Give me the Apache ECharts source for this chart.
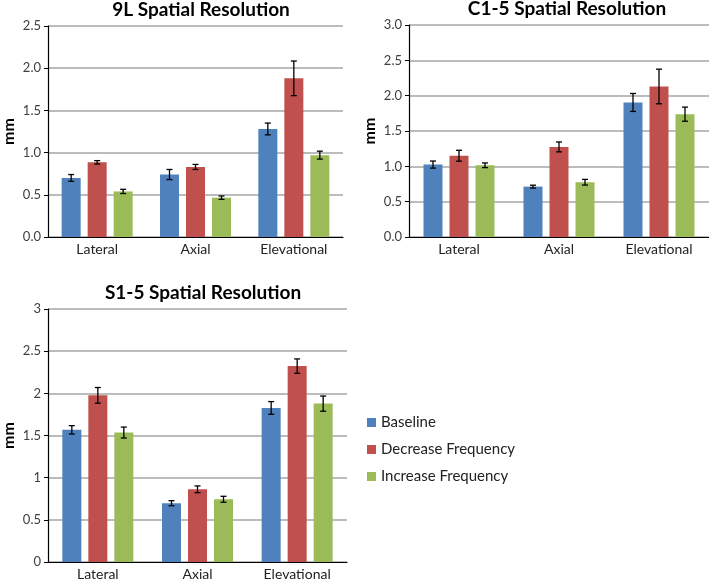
<!DOCTYPE html>
<html>
<head>
<meta charset="utf-8">
<script src="https://cdn.jsdelivr.net/npm/echarts@6/dist/echarts.min.js"></script>
<style>
html,body{margin:0;padding:0;background:#fff;}
#main{width:709px;height:581px;}
</style>
</head>
<body>
<div id="main"></div>
<script>
// ---- data ----
const categories = ['Lateral', 'Axial', 'Elevational'];
const seriesNames = ['Baseline', 'Decrease Frequency', 'Increase Frequency'];
const titles = ['9L Spatial Resolution', 'C1-5 Spatial Resolution', 'S1-5 Spatial Resolution'];

const l9Baseline = [0.70, 0.74, 1.28];
const l9Decrease = [0.885, 0.83, 1.88];
const l9Increase = [0.54, 0.466, 0.97];
const l9BaselineErr = [0.04, 0.06, 0.07];
const l9DecreaseErr = [0.02, 0.03, 0.205];
const l9IncreaseErr = [0.025, 0.02, 0.047];

const c15Baseline = [1.025, 0.713, 1.904];
const c15Decrease = [1.15, 1.275, 2.13];
const c15Increase = [1.015, 0.775, 1.738];
const c15BaselineErr = [0.05, 0.02, 0.127];
const c15DecreaseErr = [0.077, 0.07, 0.245];
const c15IncreaseErr = [0.033, 0.04, 0.10];

const s15Baseline = [1.567, 0.697, 1.827];
const s15Decrease = [1.976, 0.862, 2.323];
const s15Increase = [1.535, 0.744, 1.878];
const s15BaselineErr = [0.05, 0.03, 0.075];
const s15DecreaseErr = [0.093, 0.04, 0.085];
const s15IncreaseErr = [0.065, 0.035, 0.09];

const yTicks1 = [0, 2.5, 0.5];
const yTicks2 = [0, 3.0, 0.5];
const yTicks3 = [0, 3, 0.5];

// ---- styles ----
const colors = ['#4F81BD', '#C0504D', '#9BBB59'];
const FONT = 'Lato, "Open Sans", sans-serif';
const BAR_W = 19, BAR_GAP_PX = 7;

const panels = [
  {vals: [l9Baseline, l9Decrease, l9Increase], errs: [l9BaselineErr, l9DecreaseErr, l9IncreaseErr], ticks: yTicks1, dec: 1,
   grid: {left: 43, top: 26, width: 300, height: 211}},
  {vals: [c15Baseline, c15Decrease, c15Increase], errs: [c15BaselineErr, c15DecreaseErr, c15IncreaseErr], ticks: yTicks2, dec: 1,
   grid: {left: 409, top: 25, width: 300, height: 212}},
  {vals: [s15Baseline, s15Decrease, s15Increase], errs: [s15BaselineErr, s15DecreaseErr, s15IncreaseErr], ticks: yTicks3, dec: null,
   grid: {left: 43, top: 309, width: 304, height: 254}}
];

const grids = [], xAxes = [], yAxes = [], series = [], titleOpts = [];
panels.forEach((p, gi) => {
  grids.push(p.grid);
  titleOpts.push({
    text: titles[gi],
    left: p.grid.left + p.grid.width / 2 + 3,
    top: p.grid.top - 31,
    textAlign: 'center',
    textStyle: {fontFamily: FONT, fontWeight: 'bold', fontSize: 19, color: '#000'}
  });
  xAxes.push({
    type: 'category', gridIndex: gi, data: categories,
    axisLine: {lineStyle: {color: '#000', width: 1.2}},
    axisTick: {show: false},
    axisLabel: {fontFamily: FONT, fontSize: 14, color: '#222', margin: 5}
  });
  yAxes.push({
    type: 'value', gridIndex: gi, min: p.ticks[0], max: p.ticks[1], interval: p.ticks[2],
    name: 'mm', nameLocation: 'middle', nameGap: 31, nameRotate: 90,
    nameTextStyle: {fontFamily: FONT, fontWeight: 'bold', fontSize: 16, color: '#000'},
    axisLine: {show: true, lineStyle: {color: '#000', width: 1.2}},
    axisTick: {show: true, length: 4, lineStyle: {color: '#000'}},
    splitLine: {lineStyle: {color: '#a6a6a6', width: 1.5}},
    axisLabel: {
      fontFamily: FONT, fontSize: 13, color: '#404040', margin: 7,
      formatter: v => p.dec === null ? String(v) : v.toFixed(p.dec)
    }
  });
  p.vals.forEach((arr, si) => {
    series.push({
      type: 'bar', name: seriesNames[si], xAxisIndex: gi, yAxisIndex: gi,
      data: arr, barWidth: BAR_W, barGap: (BAR_GAP_PX / BAR_W * 100) + '%',
      itemStyle: {color: colors[si]}, z: 2
    });
  });
  p.vals.forEach((arr, si) => {
    const offset = (si - 1) * (BAR_W + BAR_GAP_PX);
    series.push({
      type: 'custom', name: seriesNames[si], xAxisIndex: gi, yAxisIndex: gi, z: 5,
      data: arr.map((v, ci) => [ci, v, p.errs[si][ci]]),
      encode: {x: 0, y: 1},
      renderItem: (params, api) => {
        const ci = api.value(0), v = api.value(1), e = api.value(2);
        const hi = api.coord([ci, v + e]);
        const lo = api.coord([ci, v - e]);
        const x = hi[0] + offset;
        const cap = 3;
        const st = {stroke: '#000', lineWidth: 1.3};
        return {type: 'group', children: [
          {type: 'line', shape: {x1: x, y1: hi[1], x2: x, y2: lo[1]}, style: st},
          {type: 'line', shape: {x1: x - cap, y1: hi[1], x2: x + cap, y2: hi[1]}, style: st},
          {type: 'line', shape: {x1: x - cap, y1: lo[1], x2: x + cap, y2: lo[1]}, style: st}
        ]};
      }
    });
  });
});

const chart = echarts.init(document.getElementById('main'), null, {renderer: 'canvas'});
chart.setOption({
  animation: false,
  backgroundColor: '#fff',
  color: colors,
  title: titleOpts,
  grid: grids,
  xAxis: xAxes,
  yAxis: yAxes,
  legend: {
    data: seriesNames.map(n => ({name: n, icon: 'rect'})),
    orient: 'vertical', left: 367, top: 415, padding: 0,
    itemWidth: 9, itemHeight: 9, itemGap: 12,
    textStyle: {fontFamily: FONT, fontSize: 15, color: '#222'}
  },
  series: series
});
</script>
</body>
</html>
